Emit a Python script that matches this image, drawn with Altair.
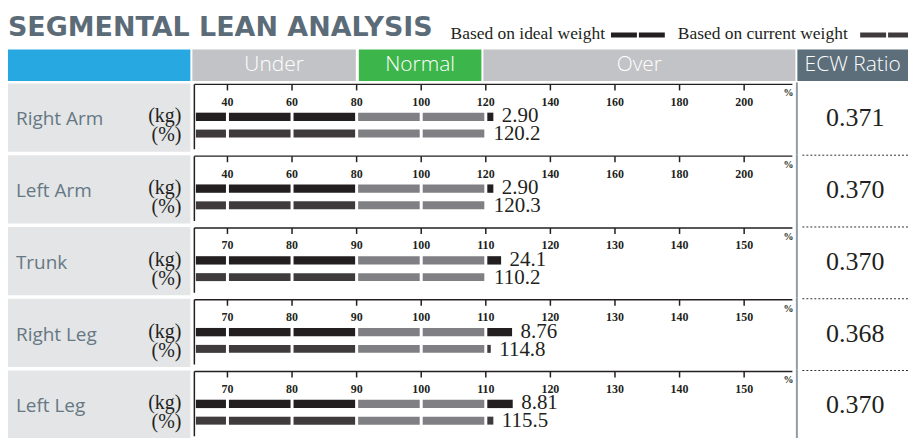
import altair as alt
import pandas as pd

# ---------------- data ----------------
segment_names = ["Right Arm", "Left Arm", "Trunk", "Right Leg", "Left Leg"]
tick_start = [40, 40, 70, 70, 70]          # first labelled tick of each row
tick_step = [20, 20, 10, 10, 10]           # spacing between ticks
normal_low = [80, 80, 90, 90, 90]          # start of the normal band
normal_high = [120, 120, 110, 110, 110]    # end of the normal band
kg_labels = ["2.90", "2.90", "24.1", "8.76", "8.81"]
pct_labels = ["120.2", "120.3", "110.2", "114.8", "115.5"]
kg_bar_end = [122.8, 122.8, 112.6, 114.3, 114.4]     # end of the (kg) bar, % scale
pct_bar_end = [120.2, 120.3, 110.2, 111.0, 111.4]    # end of the (%) bar, % scale
ecw_ratio = ["0.371", "0.370", "0.370", "0.368", "0.370"]
header_labels = ["Under", "Normal", "Over", "ECW Ratio"]
legend_labels = ["Based on ideal weight", "Based on current weight"]
title_text = "SEGMENTAL LEAN ANALYSIS"

# ---------------- layout / style ----------------
W = 911
HEADER_H = 82
ROW_H = 72
N_TICKS = 9
TICK_PX0, TICK_PX1 = 228.2, 746.6      # pixel of first and last tick
AXIS_PX0, AXIS_PX1 = 195.0, 795.0      # pixel extent of the axis line
SERIF = "Liberation Serif"
SANS = "Open Sans"
DARK = "#231f20"
DARK2 = "#3f3b3c"
MID = "#807f83"
SLATE = "#5b6c78"
one = pd.DataFrame({"k": [0]})


def box(x1, x2, y1, y2, color):
    return alt.Chart(one).mark_rect(color=color).encode(
        x=alt.value(x1), x2=alt.value(x2), y=alt.value(y1), y2=alt.value(y2))


def label(text, x, y, **kw):
    return alt.Chart(one).mark_text(text=text, **kw).encode(
        x=alt.value(x), y=alt.value(y))


# ---------------- header ----------------
header_layers = [
    label(title_text, 8, 35, align="left", baseline="alphabetic", font="DejaVu Sans",
          fontWeight="bold", fontSize=27, color=SLATE),
    label(legend_labels[0], 452, 33, align="left", baseline="middle", font=SERIF,
          fontSize=17.5, color=DARK),
    alt.Chart(one).mark_rule(color=DARK, strokeWidth=5, strokeDash=[26, 2]).encode(
        x=alt.value(613), x2=alt.value(667), y=alt.value(34.5)),
    label(legend_labels[1], 680, 33, align="left", baseline="middle", font=SERIF,
          fontSize=17.5, color=DARK),
    alt.Chart(one).mark_rule(color=DARK2, strokeWidth=5, strokeDash=[26, 2]).encode(
        x=alt.value(863), x2=alt.value(911), y=alt.value(34.5)),
]
hdr_boxes = [(8, 191, "#27a8e0", ""), (193, 357, "#c2c3c6", header_labels[0]),
             (360, 483, "#3cb54a", header_labels[1]), (485, 798, "#c2c3c6", header_labels[2]),
             (800, 911, "#5b6e7a", header_labels[3])]
for x1, x2, col, txt in hdr_boxes:
    header_layers.append(box(x1, x2, 49, 80.5, col))
    if txt:
        header_layers.append(label(txt, (x1 + x2) / 2, 65, align="center", baseline="middle",
                                   font=SANS, fontWeight=300, fontSize=21, color="#ffffff"))
header = alt.layer(*header_layers).properties(width=W, height=HEADER_H)


# ---------------- rows ----------------
def row_chart(i):
    t0, st = tick_start[i], tick_step[i]
    ticks = [t0 + st * k for k in range(N_TICKS)]
    u_per_px = (N_TICKS - 1) / (TICK_PX1 - TICK_PX0)
    lo = t0 + (AXIS_PX0 - TICK_PX0) * u_per_px * st
    hi = t0 + (AXIS_PX1 - TICK_PX0) * u_per_px * st
    xs = alt.Scale(domain=[ticks[0], ticks[-1]], range=[TICK_PX0, TICK_PX1], nice=False, zero=False)

    def segments(end, series):
        bounds = [lo] + [t for t in ticks if lo < t < end] + [end]
        out = []
        for a, b in zip(bounds[:-1], bounds[1:]):
            if (b - a) / st < 0.05:
                continue
            zone = "under" if b <= normal_low[i] else ("over" if a >= normal_high[i] else "normal")
            out.append({"a": a, "b": b, "key": series + "-" + zone})
        return pd.DataFrame(out)

    color = alt.Color("key:N", legend=None, scale=alt.Scale(
        domain=["kg-under", "kg-normal", "kg-over", "pct-under", "pct-normal", "pct-over"],
        range=[DARK, MID, DARK, DARK2, MID, DARK2]))

    tick_df = pd.DataFrame({"t": ticks, "lab": [str(t) for t in ticks]})
    axis_df = pd.DataFrame({"lo": [lo], "hi": [hi]})
    val_df = pd.DataFrame({"end": [kg_bar_end[i], pct_bar_end[i]],
                           "lab": [kg_labels[i], pct_labels[i]],
                           "s": ["kg", "pct"]})

    layers = [
        box(8, 191, 1, 69.5, "#e4e5e7"),
        label(segment_names[i], 16, 37, align="left", baseline="middle", font=SANS,
              fontSize=19, color="#657884"),
        label("(kg)", 182, 34, align="right", baseline="middle", font=SERIF, fontSize=20, color=DARK),
        label("(%)", 182, 53, align="right", baseline="middle", font=SERIF, fontSize=20, color=DARK),
        alt.Chart(segments(kg_bar_end[i], "kg")).mark_rect(xOffset=1.5, x2Offset=-1.5).encode(
            x=alt.X("a:Q", scale=xs, axis=None), x2="b:Q", color=color,
            y=alt.value(30.3), y2=alt.value(38.7)),
        alt.Chart(segments(pct_bar_end[i], "pct")).mark_rect(xOffset=1.5, x2Offset=-1.5).encode(
            x=alt.X("a:Q", scale=xs, axis=None), x2="b:Q", color=color,
            y=alt.value(47.3), y2=alt.value(55.3)),
        alt.Chart(axis_df).mark_rule(color=DARK, strokeWidth=1.3).encode(
            x=alt.X("lo:Q", scale=xs, axis=None), x2="hi:Q", y=alt.value(2)),
        alt.Chart(axis_df).mark_rule(color=DARK, strokeWidth=1.5).encode(
            x=alt.X("lo:Q", scale=xs, axis=None), y=alt.value(2), y2=alt.value(67)),
        alt.Chart(tick_df).mark_rule(color=DARK, strokeWidth=1.5).encode(
            x=alt.X("t:Q", scale=xs, axis=None), y=alt.value(2), y2=alt.value(8)),
        alt.Chart(tick_df).mark_text(font=SERIF, fontWeight="bold", fontSize=12, color=DARK,
                                     baseline="middle").encode(
            x=alt.X("t:Q", scale=xs, axis=None), y=alt.value(19.5), text="lab:N"),
        label("%", 791, 11, align="center", baseline="middle", font=SERIF, fontWeight="bold",
              fontSize=10, color=DARK),
        alt.Chart(val_df[val_df.s == "kg"]).mark_text(
            align="left", baseline="middle", dx=7, font=SERIF, fontSize=21, color=DARK).encode(
            x=alt.X("end:Q", scale=xs, axis=None), y=alt.value(34), text="lab:N"),
        alt.Chart(val_df[val_df.s == "pct"]).mark_text(
            align="left", baseline="middle", dx=7, font=SERIF, fontSize=21, color=DARK).encode(
            x=alt.X("end:Q", scale=xs, axis=None), y=alt.value(52), text="lab:N"),
        alt.Chart(one).mark_rule(color="#8f9ca6", strokeWidth=2).encode(
            x=alt.value(799.5), y=alt.value(0), y2=alt.value(ROW_H)),
        label(ecw_ratio[i], 858, 36, align="center", baseline="middle", font=SERIF,
              fontSize=26, color=DARK),
    ]
    if i > 0:
        layers.append(alt.Chart(one).mark_rule(color="#333333", strokeWidth=1, strokeDash=[2, 2]).encode(
            x=alt.value(805), x2=alt.value(911), y=alt.value(1)))
    return alt.layer(*layers).properties(width=W, height=ROW_H)


rows = [row_chart(i) for i in range(len(segment_names))]

chart = alt.vconcat(header, *rows, spacing=0, bounds="flush").properties(
    padding=0, background="#ffffff"
).configure_view(strokeWidth=0)

chart.save("out.html", embed_options={"renderer": "svg", "actions": False})
